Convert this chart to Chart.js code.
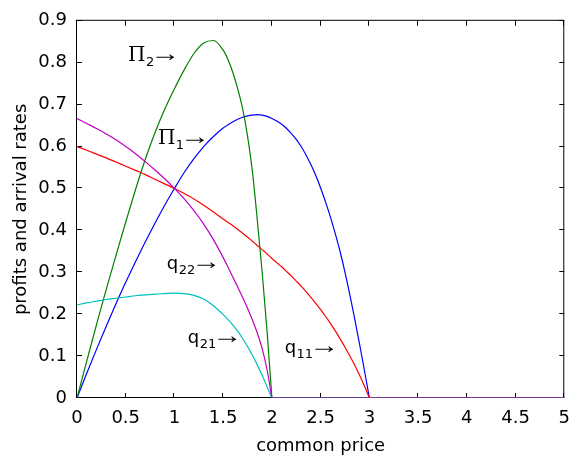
<!DOCTYPE html>
<html>
<head>
<meta charset="utf-8">
<script src="https://cdn.jsdelivr.net/npm/chart.js@4/dist/chart.umd.min.js"></script>
<style>
html,body{margin:0;padding:0;background:#fff;}
#c{display:block;}
</style>
</head>
<body>
<canvas id="c" width="580" height="460"></canvas>
<script>
// ---- data ----
const price = [0,0.1,0.2,0.3,0.4,0.5,0.6,0.7,0.8,0.9,1.0,1.1,1.2,1.3,1.4,1.5,
  1.55,1.6,1.65,1.7,1.75,1.8,1.85,1.9,1.95,2.0,
  2.05,2.1,2.15,2.2,2.25,2.3,2.35,2.4,2.45,2.5,
  2.55,2.6,2.65,2.7,2.75,2.8,2.85,2.9,2.95,3.0,5];

const q11 = [0.600,0.591,0.582,0.573,0.563,0.553,0.543,0.533,0.522,0.511,0.500,0.488,0.475,0.460,0.444,0.427,
  0.419,0.411,0.402,0.393,0.384,0.374,0.364,0.354,0.344,0.333,
  0.323,0.313,0.302,0.291,0.279,0.267,0.254,0.240,0.226,0.211,
  0.195,0.178,0.160,0.141,0.121,0.100,0.078,0.054,0.028,0,0];

const pi1 = [0,0.059,0.116,0.171,0.225,0.276,0.325,0.372,0.417,0.460,0.500,0.538,0.571,0.600,0.624,0.644,
  0.652,0.659,0.665,0.670,0.673,0.675,0.676,0.675,0.672,0.667,
  0.661,0.653,0.643,0.631,0.617,0.600,0.580,0.557,0.531,0.501,
  0.468,0.432,0.392,0.349,0.300,0.246,0.188,0.128,0.065,0,0];

const pi2 = [0,0.088,0.175,0.259,0.340,0.420,0.497,0.569,0.633,0.689,0.738,0.783,0.822,0.847,0.853,0.830,
  0.807,0.776,0.737,0.690,0.625,0.540,0.425,0.300,0.160,0,
  0,0,0,0,0,0,0,0,0,0,
  0,0,0,0,0,0,0,0,0,0,0];

const q22 = [0.667,0.655,0.643,0.630,0.616,0.600,0.583,0.564,0.544,0.523,0.500,0.475,0.447,0.415,0.378,0.335,
  0.312,0.288,0.264,0.240,0.214,0.186,0.155,0.118,0.068,0,
  0,0,0,0,0,0,0,0,0,0,
  0,0,0,0,0,0,0,0,0,0,0];

const q21 = [0.222,0.227,0.231,0.235,0.238,0.241,0.244,0.246,0.248,0.249,0.250,0.249,0.245,0.236,0.220,0.199,
  0.187,0.174,0.159,0.142,0.123,0.102,0.079,0.054,0.027,0,
  0,0,0,0,0,0,0,0,0,0,
  0,0,0,0,0,0,0,0,0,0,0];

const xTicks = [0,0.5,1,1.5,2,2.5,3,3.5,4,4.5,5];
const xTickLabels = ['0','0.5','1','1.5','2','2.5','3','3.5','4','4.5','5'];
const yTicks = [0,0.1,0.2,0.3,0.4,0.5,0.6,0.7,0.8,0.9];
const yTickLabels = ['0','0.1','0.2','0.3','0.4','0.5','0.6','0.7','0.8','0.9'];

const annotationMain = ['\u03A0','\u03A0','q','q','q'];
const annotationSub = ['2','1','22','21','11'];

const xTitle = 'common price';
const yTitle = 'profits and arrival rates';

// ---- chart ----
function pts(v, from, to){
  const out = [];
  for (let i = from; i <= to; i++) out.push({x:price[i], y:v[i]});
  return out;
}
// index where a curve reaches zero for good (start of its flat tail)
function tailStart(v){
  let last = 0;
  for (let i = 0; i < v.length; i++) if (v[i] > 0) last = i;
  return last + 1;
}

const FONT = 'DejaVu Sans';

const series = [
  {name:'q22', v:q22, color:'rgb(191,0,191)', order:1},
  {name:'q21', v:q21, color:'rgb(0,191,191)', order:2},
  {name:'q11', v:q11, color:'rgb(255,0,0)', order:3},
  {name:'\u03A02', v:pi2, color:'rgb(0,128,0)', order:4},
  {name:'\u03A01', v:pi1, color:'rgb(0,0,255)', order:5}
];

const datasets = [];
series.forEach(s=>{
  const k = tailStart(s.v);
  datasets.push({label:s.name, data:pts(s.v, 0, k), borderColor:s.color, order:s.order,
    borderWidth:1.2, pointRadius:0, cubicInterpolationMode:'monotone', fill:false});
  datasets.push({label:s.name + ' tail', data:pts(s.v, k, s.v.length-1), borderColor:s.color, order:s.order,
    borderWidth:1.2, pointRadius:0, tension:0, fill:false});
});

const framePlugin = {
  id:'frame',
  beforeDatasetsDraw(chart){
    const {ctx, chartArea:a, scales:{x,y}} = chart;
    ctx.save();
    ctx.strokeStyle = '#000';
    ctx.lineWidth = 1;
    ctx.strokeRect(a.left-0.5, a.top-0.5, a.right-a.left, a.bottom-a.top);
    const L = 5;
    ctx.beginPath();
    xTicks.forEach(v=>{
      const px = Math.round(x.getPixelForValue(v)) - 0.5;
      ctx.moveTo(px, a.bottom); ctx.lineTo(px, a.bottom - L);
      ctx.moveTo(px, a.top); ctx.lineTo(px, a.top + L);
    });
    yTicks.forEach(v=>{
      const py = Math.round(y.getPixelForValue(v)) - 0.5;
      ctx.moveTo(a.left, py); ctx.lineTo(a.left + L, py);
      ctx.moveTo(a.right, py); ctx.lineTo(a.right - L, py);
    });
    ctx.stroke();
    ctx.restore();
  }
};

const annotPlugin = {
  id:'annot',
  afterDatasetsDraw(chart, args, opts){
    const {ctx, scales:{x,y}} = chart;
    ctx.save();
    ctx.fillStyle = '#000';
    ctx.textBaseline = 'alphabetic';
    ctx.textAlign = 'left';
    opts.items.forEach((it,i)=>{
      let px = x.getPixelForValue(it.x);
      const py = y.getPixelForValue(it.y);
      ctx.font = it.serif ? '20px "DejaVu Serif"' : '18px "DejaVu Sans"';
      const m = annotationMain[i];
      ctx.fillText(m, px, py);
      px += ctx.measureText(m).width + 0.5;
      ctx.font = '13px "DejaVu Sans"';
      const s = annotationSub[i];
      ctx.fillText(s, px, py + 5);
      px += ctx.measureText(s).width - 4;
      ctx.font = '24px "Liberation Serif"';
      const w = ctx.measureText('\u2192').width || 1;
      ctx.save();
      ctx.translate(px, py);
      ctx.scale(opts.arrowWidth / w, 1);
      ctx.fillText('\u2192', 0, 0);
      ctx.restore();
    });
    ctx.restore();
  }
};

new Chart(document.getElementById('c'), {
  type:'line',
  data:{ datasets },
  options:{
    responsive:false,
    animation:false,
    devicePixelRatio:1,
    layout:{padding:{top:13,right:15,left:0,bottom:0}},
    plugins:{
      legend:{display:false},
      tooltip:{enabled:false},
      annot:{arrowWidth:30, items:[
        {x:0.523, y:0.804, serif:true},
        {x:0.830, y:0.605, serif:true},
        {x:0.922, y:0.307},
        {x:1.137, y:0.132},
        {x:2.131, y:0.108}
      ]}
    },
    scales:{
      x:{
        type:'linear', min:0, max:5,
        afterBuildTicks:s=>{ s.ticks = xTicks.map(v=>({value:v})); },
        afterFit:s=>{ s.height = 62; },
        ticks:{callback:(v,i)=>xTickLabels[i], font:{family:FONT,size:18}, color:'#000', padding:10, maxRotation:0, autoSkip:false},
        grid:{display:false, drawTicks:false},
        border:{display:false},
        title:{display:true, text:xTitle, font:{family:FONT,size:18}, color:'#000', padding:{top:0,bottom:2.4}}
      },
      y:{
        type:'linear', min:0, max:0.9,
        afterBuildTicks:s=>{ s.ticks = yTicks.map(v=>({value:v})); },
        afterFit:s=>{ s.width = 77; },
        ticks:{callback:(v,i)=>yTickLabels[i], font:{family:FONT,size:18}, color:'#000', padding:10, autoSkip:false},
        grid:{display:false, drawTicks:false},
        border:{display:false},
        title:{display:true, text:yTitle, font:{family:FONT,size:18}, color:'#000', padding:{top:10.7,bottom:0}}
      }
    }
  },
  plugins:[framePlugin, annotPlugin]
});
</script>
</body>
</html>
